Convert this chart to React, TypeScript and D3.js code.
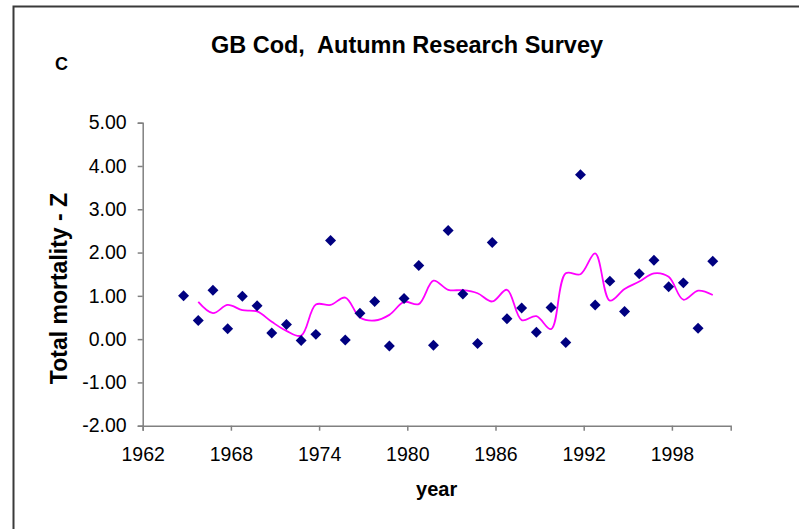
import React, { useEffect, useRef } from 'react';
import * as d3 from 'd3';

// survey years and total mortality Z estimates (diamonds)
const years = [
  1965, 1966, 1967, 1968, 1969, 1970, 1971, 1972, 1973, 1974, 1975, 1976, 1977,
  1978, 1979, 1980, 1981, 1982, 1983, 1984, 1985, 1986, 1987, 1988, 1989, 1990,
  1991, 1992, 1993, 1994, 1995, 1996, 1997, 1998, 1999, 2000, 2001
];
const zValues = [
  1.0, 0.43, 1.13, 0.24, 0.99, 0.77, 0.14, 0.34, -0.03, 0.11, 2.28, -0.02, 0.6,
  0.87, -0.16, 0.94, 1.7, -0.14, 2.51, 1.04, -0.1, 2.23, 0.47, 0.72, 0.16, 0.73,
  -0.08, 3.8, 0.79, 1.34, 0.64, 1.51, 1.82, 1.21, 1.3, 0.25, 1.8
];

// smoothed trend (magenta line)
const smoothYears = [
  1966, 1967, 1968, 1969, 1970, 1971, 1972, 1973, 1974, 1975, 1976, 1977, 1978,
  1979, 1980, 1981, 1982, 1983, 1984, 1985, 1986, 1987, 1988, 1989, 1990, 1991,
  1992, 1993, 1994, 1995, 1996, 1997, 1998, 1999, 2000, 2001
];
const smoothValues = [
  0.86, 0.6, 0.79, 0.67, 0.64, 0.4, 0.19, 0.08, 0.8, 0.79, 0.96, 0.5, 0.43,
  0.56, 0.86, 0.81, 1.35, 1.14, 1.13, 1.06, 0.87, 1.14, 0.44, 0.53, 0.23, 1.52,
  1.5, 1.98, 0.89, 1.16, 1.33, 1.52, 1.44, 0.91, 1.12, 1.02
];

const xTicks = [1962, 1968, 1974, 1980, 1986, 1992, 1998];
const yTicks = [-2, -1, 0, 1, 2, 3, 4, 5];

// points sit a little before the year mark in the original plot
const yearShift = -0.22;

const App = () => {
  const $svg = useRef(null);
  const width = 799;
  const height = 529;

  useEffect(() => {
    const svg = d3.select($svg.current);
    svg.selectAll('*').remove();

    const x = d3.scaleLinear().domain([1962, 2002]).range([142.7, 730.7]);
    const y = d3.scaleLinear().domain([-2, 5]).range([425.7, 122.7]);
    const axisColor = '#808080';
    const font = 'Arial, "Liberation Sans", sans-serif';

    // outer frame
    svg
      .append('rect')
      .attr('x', 13.5)
      .attr('y', 6.5)
      .attr('width', 900)
      .attr('height', 700)
      .attr('fill', 'none')
      .attr('stroke', '#3a3a3a')
      .attr('stroke-width', 2);

    // y axis
    const yAxis = svg
      .append('g')
      .attr('transform', `translate(${x(1962)},0)`)
      .call(
        d3
          .axisLeft(y)
          .tickValues(yTicks)
          .tickSize(5)
          .tickPadding(11)
          .tickFormat(d => d.toFixed(2))
      );
    yAxis.select('.domain').attr('stroke', axisColor).attr('stroke-width', 1.5);
    yAxis.selectAll('.tick line').attr('stroke', axisColor).attr('stroke-width', 1.5);
    yAxis
      .selectAll('.tick text')
      .attr('fill', '#000')
      .style('font-family', font)
      .style('font-size', '19.5px');

    // x axis
    const xAxis = svg
      .append('g')
      .attr('transform', `translate(0,${y(-2)})`)
      .call(d3.axisBottom(x).tickValues(xTicks).tickSize(5).tickPadding(16).tickFormat(d3.format('d')));
    xAxis.select('.domain').attr('stroke', axisColor).attr('stroke-width', 1.5);
    xAxis.selectAll('.tick line').attr('stroke', axisColor).attr('stroke-width', 1.5);
    xAxis
      .selectAll('.tick text')
      .attr('fill', '#000')
      .style('font-family', font)
      .style('font-size', '19.5px');

    // smoothed trend
    const line = d3
      .line()
      .x((d, i) => x(smoothYears[i] + yearShift))
      .y(d => y(d))
      .curve(d3.curveCatmullRom.alpha(0.5));
    svg
      .append('path')
      .attr('d', line(smoothValues))
      .attr('fill', 'none')
      .attr('stroke', '#FF00FF')
      .attr('stroke-width', 1.8);

    // data points
    const diamond = d3.symbol().type(d3.symbolSquare).size(60);
    svg
      .append('g')
      .selectAll('path')
      .data(zValues)
      .enter()
      .append('path')
      .attr('d', diamond())
      .attr('transform', (d, i) => `translate(${x(years[i] + yearShift)},${y(d)}) rotate(45)`)
      .attr('fill', '#000080');

    // titles
    svg
      .append('text')
      .attr('x', 407)
      .attr('y', 53.3)
      .attr('text-anchor', 'middle')
      .style('font-family', font)
      .style('font-weight', 'bold')
      .style('font-size', '23.5px')
      .style('white-space', 'pre')
      .text('GB Cod,  Autumn Research Survey');

    svg
      .append('text')
      .attr('x', 55)
      .attr('y', 70)
      .style('font-family', font)
      .style('font-weight', 'bold')
      .style('font-size', '18px')
      .text('C');

    svg
      .append('text')
      .attr('x', 436.7)
      .attr('y', 496)
      .attr('text-anchor', 'middle')
      .style('font-family', font)
      .style('font-weight', 'bold')
      .style('font-size', '20px')
      .text('year');

    svg
      .append('text')
      .attr('transform', 'translate(67,288.5) rotate(-90)')
      .attr('text-anchor', 'middle')
      .style('font-family', font)
      .style('font-weight', 'bold')
      .style('font-size', '23px')
      .text('Total mortality - Z');
  }, []);

  return (
    <svg
      ref={$svg}
      width={width}
      height={height}
      style={{ position: 'absolute', left: 0, top: 0, background: '#fff' }}
    />
  );
};

export default App;
